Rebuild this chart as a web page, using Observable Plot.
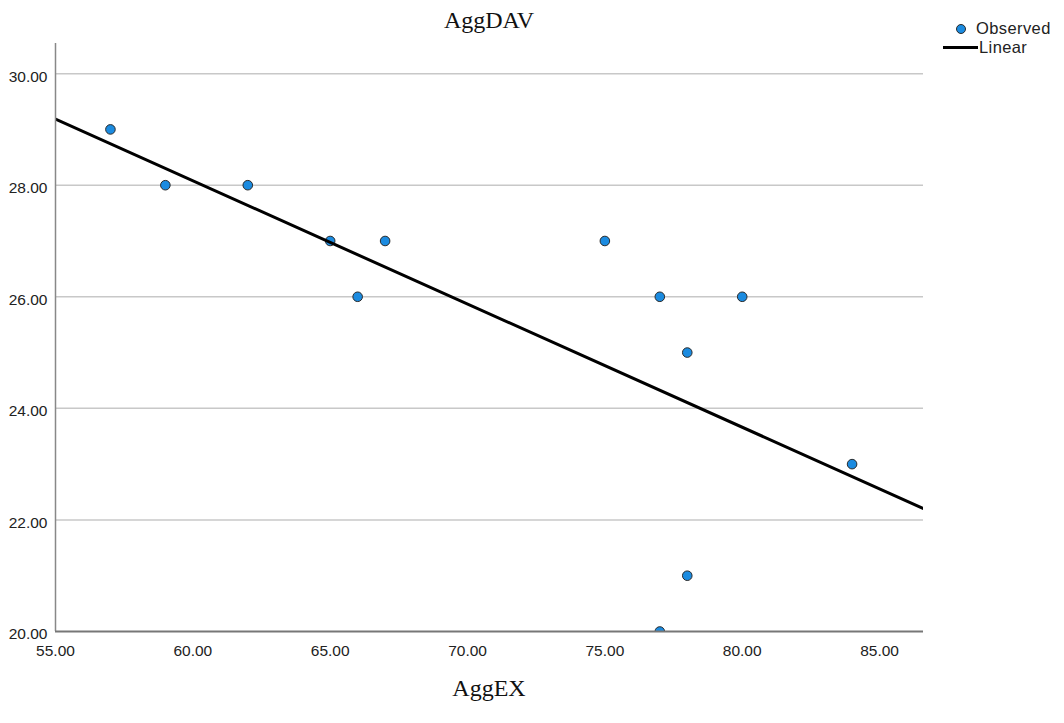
<!DOCTYPE html>
<html><head><meta charset="utf-8">
<script src="https://cdn.jsdelivr.net/npm/d3@7"></script>
<script src="https://cdn.jsdelivr.net/npm/@observablehq/plot@0.6"></script>
<style>
body{margin:0;background:#fff;}
#wrap{position:relative;width:1064px;height:723px;overflow:hidden;}
.serif{font-family:"Liberation Serif","Times New Roman",serif;font-size:24px;color:#111;position:absolute;left:0;width:978px;text-align:center;line-height:32px;}
#chart{position:absolute;left:0;top:38px;}
.leg{position:absolute;font-family:"Liberation Sans",Arial,sans-serif;font-size:16.5px;letter-spacing:0.4px;color:#222;line-height:18px;}
</style></head><body>
<div id="wrap">
  <div class="serif" style="top:4px">AggDAV</div>
  <div id="chart"></div>
  <div class="serif" style="top:672px">AggEX</div>
  <div class="leg" style="left:955.5px;top:23.5px;width:10px;height:10px;border-radius:50%;background:#1b8be0;border:1px solid #2a2a2a;box-sizing:border-box;"></div>
  <div class="leg" style="left:976px;top:19px;">Observed</div>
  <div class="leg" style="left:943px;top:45.5px;width:35px;height:3px;background:#000;"></div>
  <div class="leg" style="left:979px;top:38px;">Linear</div>
</div>
<script>
const aggEX  = [57, 59, 62, 65, 66, 67, 75, 77, 78, 80, 84, 78, 77];
const aggDAV = [29, 28, 28, 27, 26, 27, 27, 26, 25, 26, 23, 21, 20];
const xTicks = [55, 60, 65, 70, 75, 80, 85];
const yTicks = [20, 22, 24, 26, 28, 30];
const xDomain = [55, 86.6];
const yDomain = [20, 30.54];

const data = aggEX.map((x, i) => ({x, y: aggDAV[i]}));
const mx = d3.mean(aggEX), my = d3.mean(aggDAV);
const sxy = d3.sum(data, d => (d.x - mx) * (d.y - my));
const sxx = d3.sum(data, d => (d.x - mx) ** 2);
const slope = sxy / sxx, intercept = my - slope * mx;
const fit = xDomain.map(x => ({x, y: intercept + slope * x}));
const fmt = d3.format(".2f");

const chart = Plot.plot({
  width: 1064,
  height: 632,
  marginTop: 5,
  marginBottom: 39,
  marginLeft: 55,
  marginRight: 141,
  style: {fontFamily: "'Liberation Sans', Arial, sans-serif", fontSize: "15.5px", color: "#222", background: "white"},
  x: {domain: xDomain, ticks: xTicks, tickFormat: fmt, tickSize: 0, tickPadding: 13, label: null},
  y: {domain: yDomain, axis: null},
  marks: [
    Plot.ruleY(yTicks.slice(1), {stroke: "#c8c8c8", strokeWidth: 1.5}),
    Plot.dot(data, {x: "x", y: "y", r: 4.8, fill: "#1b8be0", stroke: "#2a2a2a", strokeWidth: 1, clip: true}),
    Plot.line(fit, {x: "x", y: "y", stroke: "#000", strokeWidth: 3, clip: true}),
    Plot.ruleX([xDomain[0]], {stroke: "#888", strokeWidth: 1.5}),
    Plot.ruleY([yDomain[0]], {stroke: "#777", strokeWidth: 2}),
    Plot.text(yTicks, {y: d => d, text: d => fmt(d), frameAnchor: "left", textAnchor: "end", dx: -8, dy: 3, fill: "#222"})
  ]
});
document.getElementById("chart").appendChild(chart);
</script>
</body></html>
